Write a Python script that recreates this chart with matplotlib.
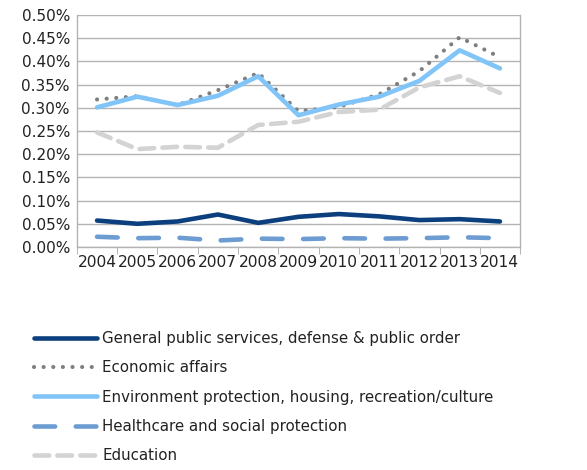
import numpy as np
import matplotlib.pyplot as plt
from matplotlib.ticker import FuncFormatter, MultipleLocator

years = ['2004', '2005', '2006', '2007', '2008', '2009', '2010', '2011', '2012', '2013', '2014']

general = [0.057, 0.050, 0.055, 0.070, 0.052, 0.065, 0.071, 0.066, 0.058, 0.060, 0.055]
economic = [0.318, 0.325, 0.306, 0.338, 0.375, 0.293, 0.302, 0.329, 0.379, 0.452, 0.409]
environment = [0.301, 0.324, 0.306, 0.326, 0.368, 0.284, 0.307, 0.324, 0.358, 0.424, 0.385]
healthcare = [0.022, 0.019, 0.020, 0.014, 0.018, 0.017, 0.019, 0.018, 0.019, 0.021, 0.019]
education = [0.247, 0.211, 0.216, 0.214, 0.263, 0.270, 0.291, 0.296, 0.344, 0.368, 0.332]

labels = ['General public services, defense & public order',
          'Economic affairs',
          'Environment protection, housing, recreation/culture',
          'Healthcare and social protection',
          'Education']


def main():
    plt.rcParams['font.family'] = ['DejaVu Sans']
    fig = plt.figure(figsize=(5.87, 4.70), dpi=100)
    ax = fig.add_axes([0.131, 0.4745, 0.755, 0.4935])

    x = np.arange(len(years))
    ax.plot(x, general, color='#0c3f7d', lw=3.3, solid_capstyle='round', label=labels[0], zorder=5)
    ax.plot(x, economic, color='#7f7f7f', lw=3.0, linestyle=(0, (0.01, 2.3)),
            dash_capstyle='round', label=labels[1], zorder=3)
    ax.plot(x, environment, color='#80c4f8', lw=3.3, solid_capstyle='round', label=labels[2], zorder=4)
    ax.plot(x, healthcare, color='#6d9cd2', lw=3.3, linestyle=(0, (4.5, 4.5)),
            dash_capstyle='round', label=labels[3], zorder=3)
    ax.plot(x, education, color='#d3d3d3', lw=3.3, linestyle=(0, (3.2, 1.8)),
            dash_capstyle='round', label=labels[4], zorder=2)

    ax.set_xlim(-0.5, len(years) - 0.5)
    ax.set_ylim(0, 0.5)
    ax.yaxis.set_major_locator(MultipleLocator(0.05))
    ax.yaxis.set_major_formatter(FuncFormatter(lambda v, p: '{:.2f}%'.format(v)))
    ax.set_xticks(x)
    ax.set_xticklabels(years)
    ax.set_xticks(np.arange(-0.5, len(years)), minor=True)
    ax.tick_params(axis='x', which='major', length=0, labelsize=11.2, pad=6, colors='#222222')
    ax.tick_params(axis='x', which='minor', length=5, color='#a6a6a6', direction='out')
    ax.tick_params(axis='y', length=0, labelsize=11, pad=5, colors='#222222')
    ax.grid(axis='y', color='#b3b3b3', lw=1.0)
    ax.set_axisbelow(True)
    for s in ['left', 'bottom', 'right', 'top']:
        ax.spines[s].set_color('#b3b3b3')
        ax.spines[s].set_linewidth(1.0)
    ax.spines['top'].set_visible(False)

    fig.legend(loc='upper left', bbox_to_anchor=(0.048, 0.308), frameon=False,
               fontsize=10.8, handlelength=4.2, handletextpad=0.35, labelspacing=0.95,
               borderaxespad=0, labelcolor='#222222')

    fig.savefig('out.png', dpi=100)


if __name__ == '__main__':
    main()
